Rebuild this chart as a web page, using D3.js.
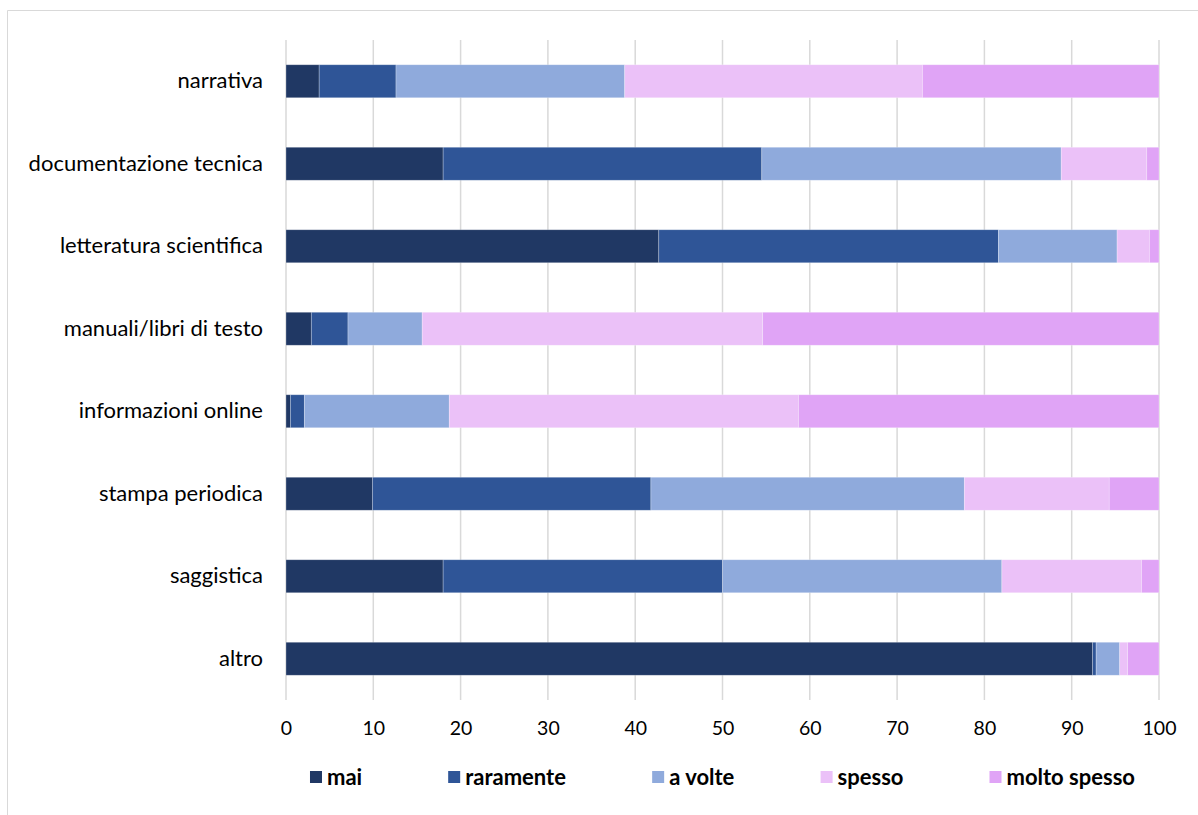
<!DOCTYPE html>
<html>
<head>
<meta charset="utf-8">
<script src="https://cdn.jsdelivr.net/npm/d3@7"></script>
<style>
  body { margin: 0; background: #fff; }
  svg { display: block; font-family: Lato, "Open Sans", sans-serif; }
</style>
</head>
<body>
<div id="chart"></div>
<script>
// categories top to bottom
const categories = [
  "narrativa",
  "documentazione tecnica",
  "letteratura scientifica",
  "manuali/libri di testo",
  "informazioni online",
  "stampa periodica",
  "saggistica",
  "altro"
];

const seriesNames = ["mai", "raramente", "a volte", "spesso", "molto spesso"];

// one array per series, in category order
const mai        = [3.8, 18.0, 42.7, 2.9, 0.5, 9.9, 18.0, 92.4];
const raramente  = [8.8, 36.5, 38.9, 4.2, 1.6, 31.9, 32.0, 0.4];
const aVolte     = [26.2, 34.3, 13.6, 8.5, 16.6, 35.9, 32.0, 2.7];
const spesso     = [34.1, 9.8, 3.7, 39.0, 40.0, 16.6, 16.0, 0.9];
const moltoSpesso = [27.1, 1.4, 1.1, 45.4, 41.3, 5.7, 2.0, 3.6];

const xTicks = [0, 10, 20, 30, 40, 50, 60, 70, 80, 90, 100];

const colors = ["#203864", "#2F5597", "#8FAADC", "#EBC1F8", "#E0A4F6"];

const W = 1198, H = 815;
const margin = { top: 40, right: 39, bottom: 115, left: 286 };
const width = W - margin.left - margin.right;
const height = H - margin.top - margin.bottom;

const table = categories.map((c, i) => ({
  cat: c,
  "mai": mai[i],
  "raramente": raramente[i],
  "a volte": aVolte[i],
  "spesso": spesso[i],
  "molto spesso": moltoSpesso[i]
}));

const stack = d3.stack().keys(seriesNames);
const layers = stack(table);

const x = d3.scaleLinear().domain([0, 100]).range([0, width]);
const y = d3.scaleBand().domain(categories).range([0, height]).paddingInner(0.6).paddingOuter(0.3);
const color = d3.scaleOrdinal().domain(seriesNames).range(colors);

const svgRoot = d3.select("#chart").append("svg")
  .attr("width", W)
  .attr("height", H);

// chart frame (only top and left edges show in the picture)
svgRoot.append("path")
  .attr("d", "M7.5,815 L7.5,10.5 L1198,10.5")
  .attr("fill", "none")
  .attr("stroke", "#d9d9d9")
  .attr("stroke-width", 1);

const svg = svgRoot.append("g")
  .attr("transform", `translate(${margin.left},${margin.top})`);

// gridlines
svg.append("g")
  .selectAll("line")
  .data(xTicks)
  .enter()
  .append("line")
  .attr("x1", d => x(d))
  .attr("x2", d => x(d))
  .attr("y1", 0)
  .attr("y2", height)
  .attr("stroke", "#d9d9d9")
  .attr("stroke-width", 1.5);

// bars
svg.selectAll(".layer")
  .data(layers)
  .enter()
  .append("g")
  .attr("class", "layer")
  .attr("fill", d => color(d.key))
  .selectAll("rect")
  .data(d => d)
  .enter()
  .append("rect")
  .attr("x", d => x(d[0]))
  .attr("y", d => y(d.data.cat))
  .attr("width", d => x(d[1]) - x(d[0]))
  .attr("height", y.bandwidth())
  .attr("stroke", "#ffffff")
  .attr("stroke-opacity", 0.35)
  .attr("stroke-width", 0.75);

// x axis labels
const xAxis = d3.axisBottom(x).tickValues(xTicks).tickSize(0).tickPadding(21);
svg.append("g")
  .attr("transform", `translate(0,${height})`)
  .call(xAxis)
  .call(g => g.select(".domain").remove())
  .call(g => g.selectAll("text")
    .attr("font-size", 19.5)
    .attr("font-family", "Lato, 'Open Sans', sans-serif")
    .attr("fill", "#000"));

// y axis labels
const yAxis = d3.axisLeft(y).tickSize(0).tickPadding(23);
svg.append("g")
  .call(yAxis)
  .call(g => g.select(".domain").remove())
  .call(g => g.selectAll("text")
    .attr("font-size", 22)
    .attr("font-family", "Lato, 'Open Sans', sans-serif")
    .attr("fill", "#000"));

// legend, centred under the plot
const legend = svg.append("g").attr("transform", `translate(0,${height + 77})`);
const items = legend.selectAll("g")
  .data(seriesNames)
  .enter()
  .append("g");

items.append("rect")
  .attr("width", 12)
  .attr("height", 12)
  .attr("y", -6)
  .attr("fill", d => color(d));

items.append("text")
  .attr("x", 17)
  .attr("dy", "0.35em")
  .attr("font-size", 22)
  .attr("font-weight", "bold")
  .attr("fill", "#000")
  .text(d => d);

const gap = 86;
let pos = 0;
const offsets = [];
items.each(function() {
  offsets.push(pos);
  pos += this.getBBox().width + gap;
});
const total = pos - gap;
const start = width / 2 - total / 2;
items.attr("transform", (d, i) => `translate(${start + offsets[i]},0)`);
</script>
</body>
</html>
